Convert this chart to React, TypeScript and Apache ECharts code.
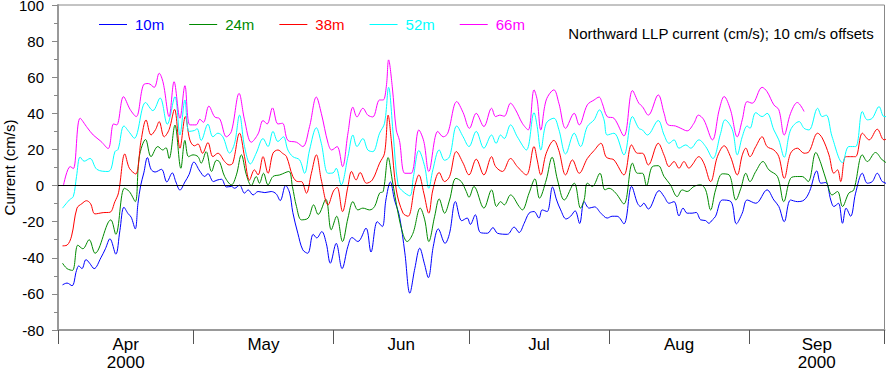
import React, { useEffect, useRef } from 'react';
import * as echarts from 'echarts';

const FONT = '"Liberation Sans", Arial, Helvetica, sans-serif';

const seriesNames = ['10m', '24m', '38m', '52m', '66m'];
const seriesColors = ['#0000ff', '#008a00', '#ff0000', '#00ffff', '#ff00ff'];
const monthNames = ['Apr', 'May', 'Jun', 'Jul', 'Aug', 'Sep'];
const monthStartDays = [0, 30, 61, 91, 122, 153, 183];
const yearLabel = '2000';
const chartTitle = 'Northward LLP current (cm/s); 10 cm/s offsets';
const yName = 'Current (cm/s)';
const yMin = -80;
const yMax = 100;
const yStep = 20;

// [day since 1 Apr 2000, plotted value (cm/s incl. offset)]
const s10 = [[1,-55],[2,-54],[3.1,-55.5],[4.1,-47],[4.6,-44.5],[5.3,-46],[6.2,-41],[7,-43],[8,-46],[9.5,-40],[10.5,-35],[11.5,-29.5],[12.8,-38],[13.7,-25],[14.6,-12],[15.5,-15.5],[16.2,-17.5],[17.1,-24],[17.7,-10],[18.3,0],[19,7],[19.8,15.5],[20.6,9],[21.5,7.5],[22.9,9],[24.1,2],[25.3,7],[26.1,2],[27,-2.5],[28.1,2],[29,6],[30.1,13],[31.4,8],[32.5,5],[33.2,6.6],[34.4,2.2],[35.2,3],[36.2,3.5],[37.3,-0.8],[38.4,-0.5],[39.1,-1.5],[40.2,0.2],[41.3,-4.2],[42.1,-2.4],[43.2,-5.2],[44.3,-3.3],[45.8,-3.9],[47.2,-3.3],[48.3,-4.6],[49.2,-8.3],[50.4,0],[51.3,-4.2],[52,-15],[53.1,-26.4],[54.2,-35.6],[55.3,-37.5],[56.5,-27],[57.3,-29],[58.4,-25.5],[59.4,-32],[60.3,-43],[61.6,-32],[62.9,-46],[64.2,-33.6],[65.1,-28.8],[66.4,-31],[68.2,-23.6],[69.3,-36.8],[70.7,-20],[71.8,-22.7],[72.6,-8],[73.6,2],[74.5,-7.9],[75.6,-17],[76.8,-37.3],[77.9,-59.6],[79,-46],[80.1,-34.7],[81.1,-43],[82,-51],[83.1,-33.6],[84.2,-24],[85.7,-32],[86.7,-26.4],[88,-8.9],[89.4,-19.5],[90.6,-18],[91.3,-21.5],[92.4,-16.2],[93.5,-26],[95.1,-26.4],[96.3,-23.3],[97.3,-26.4],[99.5,-27],[101,-23],[102.1,-26],[103.2,-21],[104.3,-15.3],[105.4,-14.4],[106.5,-18],[107.2,-13.5],[108.3,-14.4],[109.5,-0.8],[110.4,-8],[111.3,-13.5],[112.5,-18.5],[113.5,-17],[114.5,-14],[115.5,-21],[116.5,-8.9],[117.6,-12.5],[118.8,-11.8],[120.2,-15.3],[121.6,-18],[122.7,-17],[123.8,-17],[125.3,-21.2],[127,-0.5],[128.3,-9.8],[129,-11.6],[129.7,-9.8],[130.7,-13],[133.1,-2.8],[134.2,-6.1],[135.3,-9.8],[136.4,-8.9],[137.5,-16.8],[138.4,-12.5],[139.3,-15.3],[140.4,-15.3],[141.3,-14.9],[142.3,-19],[143.4,-19.4],[144.1,-20.9],[144.9,-19],[145.6,-17],[147.1,-8],[149,-8.9],[150.2,-21.2],[151.5,-15.3],[152.6,-8],[154.5,-9.8],[157,-2.4],[158.5,-8],[159.6,-11.6],[160.8,-20],[162.2,-8],[163.7,-8.9],[165.2,-8],[166.4,-3.3],[168,8.1],[168.9,1.3],[170,1.7],[171.1,-8],[171.8,-11.6],[172.8,-9.8],[173.7,-20.9],[174.5,-12.5],[175.5,-17],[176.6,-4.2],[178.1,6.8],[179.2,1.3],[180.3,2.2],[181.4,6.8],[182.5,2.2],[183.3,1.3],[184.4,-3.3],[184.9,-2.4]];

const s24 = [[1,-43],[2,-46],[3.2,-47],[4.4,-33],[5.5,-35],[6.9,-30],[8.2,-37.5],[11.7,-19],[12.8,-27],[14.7,-1.5],[15.8,-3.3],[17.1,-8.9],[18,16],[19.4,25.5],[20.6,16],[22.1,21.6],[23.2,19.7],[23.9,21],[24.6,15],[25.9,33.5],[27.2,9.6],[28.1,25],[28.9,16],[29.9,17],[31,16],[31.7,12.4],[32.8,18.8],[34,7.8],[35.1,14],[35.8,13],[36.9,5],[38.4,0.4],[39.5,5.9],[40.6,17],[41.7,6],[42.8,0],[43.9,5],[44.6,1.3],[45.5,6.8],[46.5,0.4],[47.6,5],[49.1,5.9],[51.1,7.8],[51.9,-0.5],[52.8,-11.6],[53.9,-19],[55.4,-18],[56.6,-10.7],[57.6,-16],[59.3,-7.6],[60.5,-24.5],[61.7,-17],[63,-31],[64.2,-18],[65.3,-8.9],[66.4,-13.5],[67.5,-12.5],[69,-13.5],[70.1,-11.6],[71.2,-4.2],[72,-3.3],[73.1,15.5],[74,3.1],[75.3,-15.3],[76.4,-27],[77.3,-31],[78.6,-26.4],[80.2,-12.5],[81.2,-19],[82.1,-31],[83.4,-17],[84.4,-7.4],[85.6,-15.3],[86.7,-8],[88.1,4],[89.3,2.2],[90.4,-3.3],[91,-6.5],[92.1,-0.5],[94.3,-12.5],[96,-2.4],[97.1,-11.6],[98,-8.9],[98.8,-10.7],[100.2,-5.2],[102.1,-11.6],[102.8,-13.5],[104.3,-4.2],[105.6,3.7],[106.6,-7],[108.1,3.1],[109.4,15.7],[110.6,3.1],[112.1,-8],[114.3,1.3],[115.7,-12.5],[116.5,-7.9],[117.2,1.3],[118.3,-0.5],[120,6.8],[121.1,-2.4],[122,-1.5],[123.5,-4.2],[125.3,-10.2],[127.2,12.4],[128.3,6.8],[129.4,6.8],[130.3,0],[131.6,10.5],[132.9,11],[134.2,5],[135.6,0.4],[137.1,-6.1],[138.2,-2.4],[139.3,-3.3],[140.8,-0.5],[142.3,0.4],[143.4,-2.4],[144.5,-13.5],[145.6,-2.4],[147.1,6.5],[148.6,5.9],[150.1,-8],[151.2,-1.5],[152.3,6.8],[153.2,2.2],[154.5,7.8],[156.1,13.3],[157.4,8.7],[159.3,5],[160.7,-8.9],[162.2,4],[163.7,5],[164.8,5],[166.1,2.2],[167.8,18.3],[168.9,12.4],[170.3,1.3],[171.4,-5.2],[172.6,-3.3],[173.7,-11.6],[175.1,-4.2],[176.2,-2.4],[178.1,17],[179.2,13.3],[181,18.3],[182.5,14.2],[184,11.4],[184.9,7.8]];

const s38 = [[1,-33.4],[2,-33],[3,-28],[4.2,-12.5],[5.3,-10],[6.3,-8.4],[7.2,-10],[8.2,-15.7],[10,-15],[11.5,-14.8],[12.6,-8.9],[13.4,-4],[14.8,17.5],[15.8,9.6],[17.2,6.4],[18.4,25],[19.5,36.3],[20.6,28],[21.6,31],[22.4,35.4],[23.5,27],[24.6,31],[25.8,42.2],[27,20.7],[28.2,38.2],[29.2,25.2],[30.2,22],[31,23],[32,17.9],[33.2,23.8],[34.3,16],[35.4,17.9],[36.9,13.3],[37.9,11.4],[38.7,12.4],[40.2,29],[41.3,16],[42.4,3],[43.5,8.7],[44.3,5.9],[45.4,16],[46.5,6.8],[47.6,17.9],[48.7,19.7],[49.7,17.9],[50.6,16],[52,5],[53.1,2.2],[53.9,2.2],[55,-4.2],[56.1,6.8],[57.2,17],[58.3,3.1],[59.8,-10.7],[61,-3],[61.8,-1],[63,-14.4],[64.2,-0.5],[65,7.8],[66,3.1],[66.9,7.2],[68.3,1.3],[69.6,3.1],[71.2,12.4],[72.3,17.9],[73.1,39],[73.8,25],[74.9,-2.4],[76.4,-15.3],[77.5,-17],[79,-0.5],[79.9,5.9],[81,-4.2],[82.1,-15.3],[83,-2.4],[84.4,7.2],[85.6,2.2],[86.7,5],[88.2,18.8],[89.7,12.4],[91,5.9],[92.6,14.6],[94.3,5.9],[96,16],[96.9,10.5],[98.4,7.8],[100.2,15],[101.7,10.5],[103.7,5.9],[105.4,21.6],[106.1,14.2],[106.9,5.9],[108.1,17.9],[109.8,25],[110.9,19.4],[112.4,5.9],[113.9,14.2],[115.4,6.8],[117.2,15],[118.7,19.4],[120.2,23.4],[121.3,16],[122,15],[123.1,14.2],[125.3,5.9],[127,22.5],[128.3,17.9],[129.4,17.9],[130.7,11.4],[132.9,23.4],[134.2,16.8],[135.3,10.5],[136.4,13.3],[137.5,9.6],[138.6,13.3],[139.7,9.6],[140.4,11.4],[141.9,16],[143,12.4],[144.5,2.2],[146,16],[147.5,22],[148.9,16],[150.4,5.9],[151.5,16.8],[152.3,20.7],[153.2,16],[154.5,21.6],[155.9,27],[157,21.6],[158.5,19.7],[159.6,16],[160.8,4],[162.2,17.9],[163.7,20.7],[165.2,17.9],[166.3,18.8],[168.2,29],[169.2,26.4],[170.7,17],[171.8,6.8],[172.6,8.7],[173.3,2.2],[174.4,16],[175.5,16],[176.6,16],[178.1,29],[179.6,25.3],[181.4,31.2],[182.9,25.3],[184,26.4],[184.9,20.7]];

const s52 = [[1,-12.5],[2.5,-8],[3.4,-6],[4.1,5],[4.9,15.8],[5.8,13.5],[7.1,15],[8.6,9],[11.1,7.8],[11.8,9.6],[12.6,18.8],[13.3,20],[14.6,33],[15.8,29.5],[16.9,26.2],[19.4,46],[21,41.5],[22.6,48.5],[24.2,34],[25.9,49.2],[27,28],[28.1,47.4],[29,30],[30.2,30.5],[30.8,31.5],[31.7,25],[33.2,34],[34.3,27],[35.4,29],[36.5,27],[38,18],[39.1,23.4],[40.2,39],[41.3,21.6],[42.6,12],[43.9,18],[45.4,26],[46.5,21.6],[47.6,30],[48.7,24.4],[49.9,27],[50.9,19.7],[52,16],[53.5,14.2],[54.6,6.8],[55.7,19.7],[57.2,32],[58.3,23.4],[59.8,6.8],[60.9,7],[61.6,9.6],[62.7,0.4],[64.2,16],[65.3,28],[66.2,21.6],[67.5,26],[68.6,19.7],[69.7,18.8],[71.2,29],[72.3,34.5],[73.2,54.4],[74.2,29],[75.3,0.4],[76.4,-3.3],[77.9,-5.7],[78.7,5],[79.9,19.4],[81.2,10.5],[82.1,-1.5],[83,8.7],[84.4,19.7],[85.6,14],[86.7,16],[88.3,33],[89.7,27],[91,21.6],[92.6,30],[94.3,20.7],[96,28],[97,23.4],[98,28],[98.8,26],[100.2,33.6],[101.7,27],[103.7,19.7],[105.4,40.4],[106.1,32.7],[106.9,19.7],[108.1,34.5],[109.8,37.3],[110.9,31],[112.4,17.5],[114.3,29],[115.7,21.6],[117.2,32.7],[118.7,36.4],[119.9,41.9],[120.9,36.4],[121.6,28],[123.1,29],[125.3,17],[127.2,38.2],[128.6,31.7],[129.4,30.8],[130.5,28],[132.9,36],[134.2,28],[135.3,23.4],[136.4,25.3],[137.5,20.7],[139,22.5],[140.1,20.7],[141.9,25.3],[143.4,21.6],[145,15],[146.7,28.8],[147.7,36.4],[149.3,31],[150.4,17],[151.5,27],[152.6,33],[153.2,31.7],[154.5,40.4],[155.9,38.2],[157,40],[158.5,30.8],[159.6,25.3],[160.8,15.7],[162.2,30.8],[164.1,35.4],[165.2,31.7],[166.3,30.8],[168.2,42.8],[169.2,38.2],[170.1,39],[171.4,27],[173.7,12.7],[175.1,21.6],[176.6,21.6],[178.1,41],[179.2,36.4],[180.3,37.3],[181.8,43.7],[182.9,38.2],[184,38.2],[184.9,32.7]];

const s66 = [[1.2,0],[2.7,10.5],[3.4,9.4],[4.9,37.3],[6.5,32],[7.8,28],[9.5,24.5],[11.1,20.5],[12.3,34.1],[13,33.6],[14.5,49.2],[16,42],[17.3,38.2],[18.9,55.7],[20,56.5],[21.3,54.4],[22.4,62.2],[23.3,56.8],[24.6,38.2],[25.7,57.5],[27,37.3],[28.1,55.3],[29.2,33.6],[30.6,33.6],[31.4,36.7],[32.2,35],[33.4,44],[34.7,38],[35.8,37],[37.3,27],[38.4,30],[40.1,51],[41.3,36.4],[42.8,24],[44.3,28.6],[45.4,36],[46.3,34.1],[47.5,43],[48.7,34.1],[49.7,34.5],[50.9,25],[52.8,24],[54.2,21.6],[55.7,32.7],[57.2,49],[58.3,40],[59.8,23.4],[60.6,19.7],[61.8,21.6],[63,10.5],[64.2,29],[65.3,43.4],[66.2,38],[67.5,42.8],[68.6,39],[69.7,38],[71.2,47.4],[72,47.4],[72.7,55],[73.2,69.6],[74,55],[74.9,30.8],[75.6,25],[76.8,6.8],[78.2,6.8],[79.9,30.8],[81,24.4],[82.1,7.8],[84.1,30],[85.3,27],[86.3,29],[88.3,46.5],[89.7,40.4],[91.1,31.7],[92.6,40],[94.3,32.7],[96,42.8],[96.9,38.2],[97.8,39],[98.8,38.4],[100.2,45.6],[101.3,42],[102.8,34.5],[104.1,30.8],[105.4,53],[106.1,47.4],[106.9,30.8],[108.1,47.4],[109.8,53],[110.9,45.6],[112.4,31.7],[114.3,40],[115.4,33.6],[117.2,44.7],[118.7,47.4],[119.8,49],[120.5,45.6],[121.6,38.2],[123.1,37.3],[125.3,27.5],[127.2,52.6],[128.6,45.6],[129.4,43.7],[130.7,39],[132.9,50.2],[134.2,40],[135.1,33.6],[136.7,33],[137.9,31.7],[139.3,30.3],[140.8,34.5],[141.8,39],[143,36.4],[144.9,25.3],[146.4,41.9],[147.5,49.3],[148.9,41.9],[150.4,27],[151.5,36.4],[152.6,46.5],[153.7,45.6],[155.9,54.4],[157,52],[158.5,44.7],[159.6,42],[160.8,28],[162.2,40],[163.7,46],[165.2,41]];

const seriesData = [s10, s24, s38, s52, s66];

export default function App() {
  const ref = useRef<HTMLDivElement>(null);

  useEffect(() => {
    document.body.style.margin = '0';
    if (!ref.current) return;
    const chart = echarts.init(ref.current, undefined, { renderer: 'svg' });

    const lastDay = monthStartDays[monthStartDays.length - 1];
    const halfDayCats = Array.from({ length: lastDay * 2 + 1 }, (_, i) => String(i));
    const tickIdx = new Set(monthStartDays.map((d) => d * 2));
    const labelMap: Record<number, string> = {};
    monthNames.forEach((m, i) => {
      const idx = monthStartDays[i] + monthStartDays[i + 1];
      labelMap[idx] = i === 0 || i === monthNames.length - 1 ? m + '\n' + yearLabel : m;
    });

    chart.setOption({
      animation: false,
      textStyle: { fontFamily: FONT },
      title: {
        text: chartTitle,
        right: 19,
        top: 25.5,
        padding: 0,
        textStyle: { fontSize: 15, fontWeight: 'normal', color: '#000', fontFamily: FONT },
      },
      legend: {
        left: 99,
        top: 17,
        padding: 0,
        icon: 'rect',
        itemWidth: 28,
        itemHeight: 1,
        itemGap: 25,
        selectedMode: false,
        textStyle: { fontSize: 15, fontFamily: FONT, padding: [0, 0, 0, 3] },
        data: seriesNames.map((n, i) => ({
          name: n,
          itemStyle: { color: seriesColors[i] },
          textStyle: { color: seriesColors[i] },
        })),
      },
      grid: {
        left: 58,
        right: 8.5,
        top: 5,
        bottom: 42,
        containLabel: false,
        outerBoundsMode: 'none',
        show: true,
        borderColor: '#888',
        borderWidth: 1,
        backgroundColor: 'transparent',
      },
      xAxis: [
        { type: 'value', min: 0, max: lastDay, show: false },
        {
          type: 'category',
          position: 'bottom',
          data: halfDayCats,
          boundaryGap: false,
          axisLine: { show: true, lineStyle: { color: '#999', width: 2 } },
          axisTick: {
            show: true,
            interval: (i: number) => tickIdx.has(i),
            length: 14,
            lineStyle: { color: '#555', width: 1 },
          },
          axisLabel: {
            interval: (i: number) => labelMap[i] !== undefined,
            formatter: (v: string) => labelMap[Number(v)] || '',
            fontSize: 17,
            lineHeight: 18,
            color: '#000',
            margin: 5,
            fontFamily: FONT,
          },
          splitLine: { show: false },
        },
      ],
      yAxis: {
        type: 'value',
        min: yMin,
        max: yMax,
        interval: yStep,
        name: yName,
        nameLocation: 'middle',
        nameGap: 41,
        nameMoveOverlap: false,
        nameTextStyle: { fontSize: 15, color: '#000', fontFamily: FONT },
        axisLine: { show: true, lineStyle: { color: '#999', width: 2 } },
        axisTick: { show: true, length: 6, lineStyle: { color: '#888' } },
        minorTick: { show: true, splitNumber: 2, length: 4, lineStyle: { color: '#888' } },
        splitLine: { show: false },
        axisLabel: { fontSize: 15, color: '#000', margin: 14, fontFamily: FONT },
      },
      series: seriesNames.map((n, i) => ({
        name: n,
        type: 'line',
        xAxisIndex: 0,
        data: seriesData[i],
        symbol: 'none',
        showSymbol: false,
        smooth: 0.35,
        clip: false,
        silent: true,
        lineStyle: { width: 1, color: seriesColors[i] },
        itemStyle: { color: seriesColors[i] },
        emphasis: { disabled: true },
        markLine: i === 0 ? {
          silent: true,
          symbol: ['none', 'none'],
          label: { show: false },
          lineStyle: { color: '#000', width: 1, type: 'solid' },
          data: [{ yAxis: 0 }],
        } : undefined,
      })),
    });

    return () => chart.dispose();
  }, []);

  return <div ref={ref} style={{ width: 893, height: 372 }} />;
}
